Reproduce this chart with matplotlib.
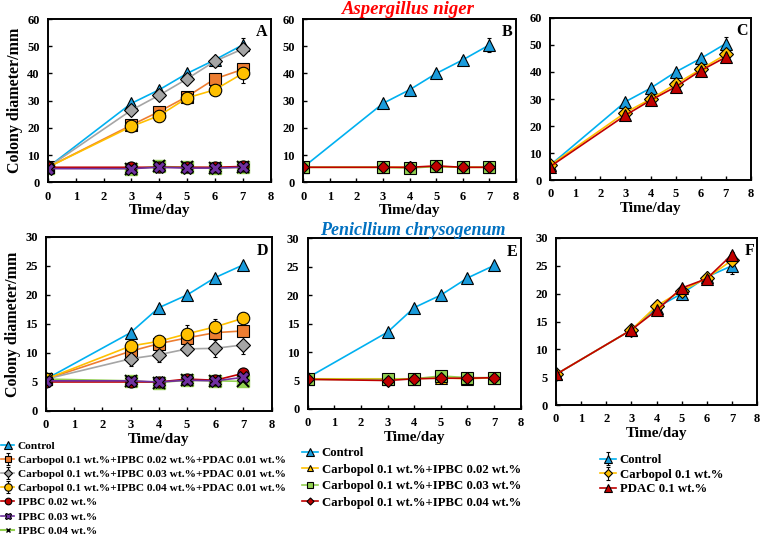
import numpy as np
import matplotlib
matplotlib.use("Agg")
import matplotlib.pyplot as plt

plt.rcParams['font.family'] = ['Liberation Serif', 'DejaVu Serif']
plt.rcParams['font.weight'] = 'bold'

days = [0, 3, 4, 5, 6, 7]

# Aspergillus niger
a_control = [5.5, 29, 34, 40, 45, 50.5]
a_cp_i02_p = [5.5, 21, 26, 31.5, 38, 41.5]
a_cp_i03_p = [5.5, 26.5, 32, 38, 44.5, 49]
a_cp_i04_p = [5.5, 20.5, 24.5, 31, 34, 40]
a_i02 = [5.5, 5.5, 5.5, 5.5, 5.5, 5.8]
a_i03 = [5.0, 5.0, 5.5, 5.2, 5.2, 5.5]
a_i04 = [5.2, 5.0, 5.8, 5.5, 5.3, 5.5]
a_cp_i02 = [5.5, 5.5, 5.5, 5.8, 5.5, 5.5]
a_cp_i03 = [5.5, 5.5, 5.2, 5.8, 5.5, 5.5]
a_cp_i04 = [5.5, 5.5, 5.5, 6.0, 5.5, 5.5]
a_carbopol = [5.5, 25, 30, 35.5, 41, 46.5]
a_pdac = [5.0, 24, 29.5, 34.5, 40.5, 45.5]

# Penicillium chrysogenum
p_control = [5.5, 13.5, 17.8, 20, 23, 25.2]
p_cp_i02_p = [5.5, 10.3, 11.6, 12.6, 13.5, 13.8]
p_cp_i03_p = [5.5, 9.0, 9.7, 10.7, 10.8, 11.4]
p_cp_i04_p = [5.5, 11.2, 12.0, 13.3, 14.5, 16.0]
p_i02 = [5.0, 5.0, 5.0, 5.5, 5.3, 6.5]
p_i03 = [5.2, 5.2, 5.0, 5.3, 5.2, 5.8]
p_i04 = [5.5, 5.2, 4.9, 5.3, 5.2, 5.1]
p_cp_i02 = [5.3, 5.3, 5.3, 5.5, 5.3, 5.5]
p_cp_i03 = [5.2, 5.2, 5.3, 5.8, 5.5, 5.5]
p_cp_i04 = [5.2, 5.0, 5.3, 5.4, 5.4, 5.5]
f_control = [5.5, 13.5, 17.5, 20, 23, 25]
f_carbopol = [5.5, 13.5, 17.8, 20.5, 22.8, 26]
f_pdac = [5.5, 13.5, 17.0, 21, 22.7, 27]

# error bars (only the visible ones)
err_a_control = [0, 0.8, 0.8, 0.8, 1.0, 2.5]
err_a_cp_i04_p = [0, 0.8, 1.0, 1.0, 1.0, 3.5]
err_p_cp_i03_p = [0, 1.2, 1.2, 0.6, 1.5, 1.5]
err_p_cp_i04_p = [0, 0.6, 0.6, 1.5, 1.3, 0.8]
err_p_cp_i02_p = [0, 0.5, 0.6, 0.8, 0.8, 0.8]
err_f = [0, 0.3, 0.6, 0.6, 0.4, 1.5]

lab_control = 'Control'
lab_cp_p = ['Carbopol 0.1 wt.%+IPBC 0.02 wt.%+PDAC 0.01 wt.%',
            'Carbopol 0.1 wt.%+IPBC 0.03 wt.%+PDAC 0.01 wt.%',
            'Carbopol 0.1 wt.%+IPBC 0.04 wt.%+PDAC 0.01 wt.%']
lab_i = ['IPBC 0.02 wt.%', 'IPBC 0.03 wt.%', 'IPBC 0.04 wt.%']
lab_cp = ['Carbopol 0.1 wt.%+IPBC 0.02 wt.%',
          'Carbopol 0.1 wt.%+IPBC 0.03 wt.%',
          'Carbopol 0.1 wt.%+IPBC 0.04 wt.%']
lab_f = ['Control', 'Carbopol 0.1 wt.%', 'PDAC 0.1 wt.%']

BLUE_L, BLUE_M = '#00B0F0', '#1A9BDB'
ORANGE = '#ED7D31'
GRAY = '#A5A5A5'
YELLOW = '#FFC000'
DRED = '#C00000'
PURPLE = '#7030A0'
GREEN = '#92D050'


def series(ax, y, lc, marker, mfc, label, err=None, ms=8):
    ax.errorbar(days, y, yerr=err, color=lc, marker=marker, mfc=mfc, mec='black',
                mew=0.8, ms=ms, lw=1.2, ecolor='black', elinewidth=0.8, capsize=1.5,
                label=label)


def style(ax, ymax, letter):
    ax.set_xlim(0, 8)
    ax.set_ylim(0, ymax)
    ax.set_xticks(range(9))
    ax.set_yticks(np.arange(0, ymax + 1, 10 if ymax == 60 else 5))
    ax.tick_params(direction='in', labelsize=9, length=3, width=1)
    ax.tick_params(axis='x', pad=6)
    ax.tick_params(axis='y', pad=6)
    for lbl in ax.get_xticklabels() + ax.get_yticklabels():
        lbl.set_fontweight('bold')
    for s in ax.spines.values():
        s.set_linewidth(1.4)
    ax.set_xlabel('Time/day', fontsize=11, fontweight='bold', labelpad=1)
    ax.text(0.985, 0.92, letter, transform=ax.transAxes, ha='right', va='center',
            fontsize=11.5, fontweight='bold')


def x_series(ax, y, lc, label):
    ax.plot(days, y, color=lc, lw=1.2, marker='s', ms=8, mfc=GREEN, mec=GREEN)
    ax.plot(days, y, color='none', marker='x', ms=8, mec='black', mew=1.4)
    ax.plot([], [], color=lc, marker='x', mec='black', mfc=GREEN, ms=5, label=label)


def ordered(ax, labels):
    h, l = ax.get_legend_handles_labels()
    d = dict(zip(l, h))
    return [d[k] for k in labels], labels


fig = plt.figure(figsize=(7.6, 5.44), dpi=100)
axA = fig.add_axes([0.063, 0.665, 0.293, 0.30])
axB = fig.add_axes([0.399, 0.665, 0.280, 0.30])
axC = fig.add_axes([0.724, 0.669, 0.264, 0.298])
axD = fig.add_axes([0.0605, 0.2445, 0.297, 0.32])
axE = fig.add_axes([0.405, 0.2482, 0.280, 0.314])
axF = fig.add_axes([0.7316, 0.2555, 0.2645, 0.307])

for ax, ctrl, cpp, ii, ectrl, ecpp in [
        (axA, a_control, [a_cp_i02_p, a_cp_i03_p, a_cp_i04_p], [a_i02, a_i03, a_i04],
         err_a_control, [None, None, err_a_cp_i04_p]),
        (axD, p_control, [p_cp_i02_p, p_cp_i03_p, p_cp_i04_p], [p_i02, p_i03, p_i04],
         None, [err_p_cp_i02_p, err_p_cp_i03_p, err_p_cp_i04_p])]:
    series(ax, ctrl, BLUE_L, '^', BLUE_M, lab_control, ectrl, ms=9)
    series(ax, cpp[0], ORANGE, 's', ORANGE, lab_cp_p[0], ecpp[0])
    series(ax, cpp[1], GRAY, 'D', GRAY, lab_cp_p[1], ecpp[1], ms=7)
    series(ax, cpp[2], YELLOW, 'o', YELLOW, lab_cp_p[2], ecpp[2], ms=9)
    series(ax, ii[0], DRED, 'o', DRED, lab_i[0])
    series(ax, ii[1], PURPLE, 'X', PURPLE, lab_i[1])
    x_series(ax, ii[2], GREEN, lab_i[2])

for ax, ctrl, cp, ectrl in [(axB, a_control, [a_cp_i02, a_cp_i03, a_cp_i04], err_a_control),
                            (axE, p_control, [p_cp_i02, p_cp_i03, p_cp_i04], None)]:
    series(ax, ctrl, BLUE_L, '^', BLUE_M, lab_control, ectrl, ms=9)
    series(ax, cp[0], YELLOW, '^', YELLOW, lab_cp[0])
    series(ax, cp[1], GREEN, 's', GREEN, lab_cp[1])
    series(ax, cp[2], DRED, 'D', DRED, lab_cp[2], ms=6)

series(axC, a_control, BLUE_L, '^', BLUE_M, lab_f[0], err_a_control, ms=9)
series(axC, a_carbopol, YELLOW, 'D', YELLOW, lab_f[1], ms=7)
series(axC, a_pdac, DRED, '^', DRED, lab_f[2], ms=9)

series(axF, f_control, BLUE_L, '^', BLUE_M, lab_f[0], err_f, ms=9)
series(axF, f_carbopol, YELLOW, 'D', YELLOW, lab_f[1], err_f, ms=7)
series(axF, f_pdac, DRED, '^', DRED, lab_f[2], ms=9)

for ax, ymax, letter in [(axA, 60, 'A'), (axB, 60, 'B'), (axC, 60, 'C'),
                         (axD, 30, 'D'), (axE, 30, 'E'), (axF, 30, 'F')]:
    style(ax, ymax, letter)

axA.set_ylabel('Colony diameter/mm', fontsize=11.5, fontweight='bold', labelpad=3)
axD.set_ylabel('Colony diameter/mm', fontsize=11.5, fontweight='bold', labelpad=3)

fig.text(0.537, 0.998, 'Aspergillus niger', ha='center', va='top', color='#FF0000',
         fontsize=13.5, fontweight='bold', style='italic')
fig.text(0.543, 0.592, 'Penicllium chrysogenum', ha='center', va='top', color='#0070C0',
         fontsize=13, fontweight='bold', style='italic')

leg_kw = dict(frameon=False, handlelength=1.2, handletextpad=0.3,
              borderaxespad=0, borderpad=0, markerscale=0.6)
h, l = ordered(axD, [lab_control] + lab_cp_p + lab_i)
fig.legend(h, l, loc='upper left', bbox_to_anchor=(0.001, 0.19), fontsize=8.2,
           labelspacing=0.37, **leg_kw)
h, l = ordered(axE, [lab_control] + lab_cp)
fig.legend(h, l, loc='upper left', bbox_to_anchor=(0.398, 0.178), fontsize=9.2,
           labelspacing=0.35, **leg_kw)
h, l = ordered(axF, lab_f)
fig.legend(h, l, loc='upper left', bbox_to_anchor=(0.79, 0.165), fontsize=9.2,
           labelspacing=0.2, **leg_kw)

fig.savefig('out.png', dpi=100)
